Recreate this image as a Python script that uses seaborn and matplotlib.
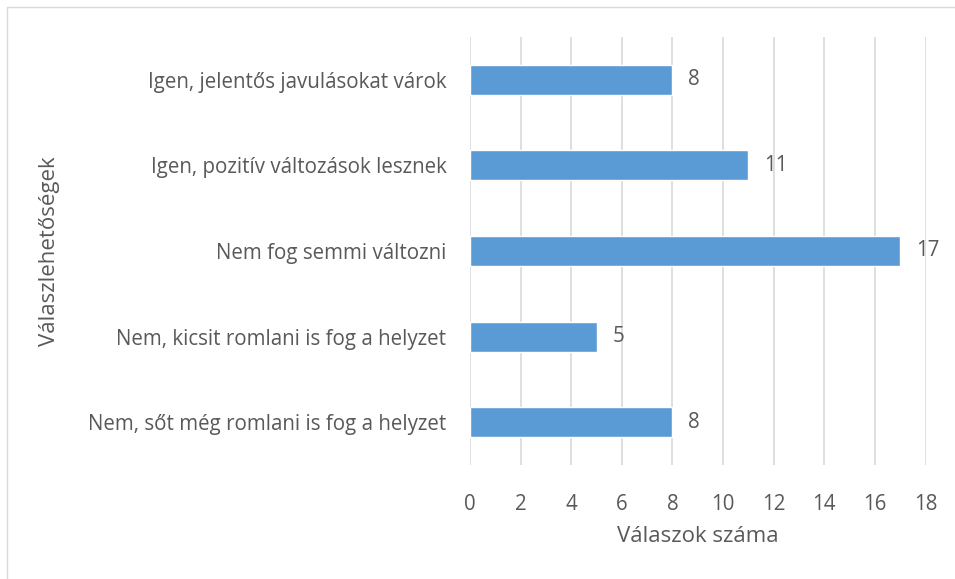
import matplotlib
matplotlib.use("Agg")
import matplotlib.pyplot as plt
import seaborn as sns
import pandas as pd
from matplotlib.patches import Rectangle

categories = [
    "Igen, jelentős javulásokat várok",
    "Igen, pozitív változások lesznek",
    "Nem fog semmi változni",
    "Nem, kicsit romlani is fog a helyzet",
    "Nem, sőt még romlani is fog a helyzet",
]
counts = [8, 11, 17, 5, 8]
x_ticks = list(range(0, 19, 2))

df = pd.DataFrame({"valasz": categories, "db": counts})

sns.set_theme(style="white")
plt.rcParams["font.family"] = ["Open Sans", "DejaVu Sans"]
text_col = "#595959"
fs = 14.8

fig = plt.figure(figsize=(9.55, 5.79), dpi=100)
ax = fig.add_axes([470 / 955, 1 - 465 / 579, (925.5 - 470) / 955, (465 - 37) / 579])

sns.barplot(data=df, x="db", y="valasz", color="#5B9BD5", width=0.35,
            saturation=1, ax=ax, zorder=3)

ax.set_xlim(0, 18)
ax.set_xticks(x_ticks)
ax.grid(axis="x", color="#D9D9D9", linewidth=1.2, zorder=0)
for s in ax.spines.values():
    s.set_visible(False)
ax.tick_params(axis="both", length=0, labelsize=fs, colors=text_col)
ax.tick_params(axis="x", pad=21)
ax.tick_params(axis="y", pad=17)

for i, v in enumerate(counts):
    ax.text(v + 0.62, i, str(v), va="center", ha="left", fontsize=fs, color=text_col)

ax.set_xlabel("Válaszok száma", fontsize=16, color=text_col, labelpad=8)
ax.set_ylabel("Válaszlehetőségek", fontsize=16, color=text_col, labelpad=20)

fig.patches.append(Rectangle((7 / 955, -0.1), 1.1, 1 - 7 / 579 + 0.1,
                             transform=fig.transFigure, fill=False,
                             edgecolor="#D9D9D9", linewidth=1))

fig.savefig("out.png", dpi=100)
